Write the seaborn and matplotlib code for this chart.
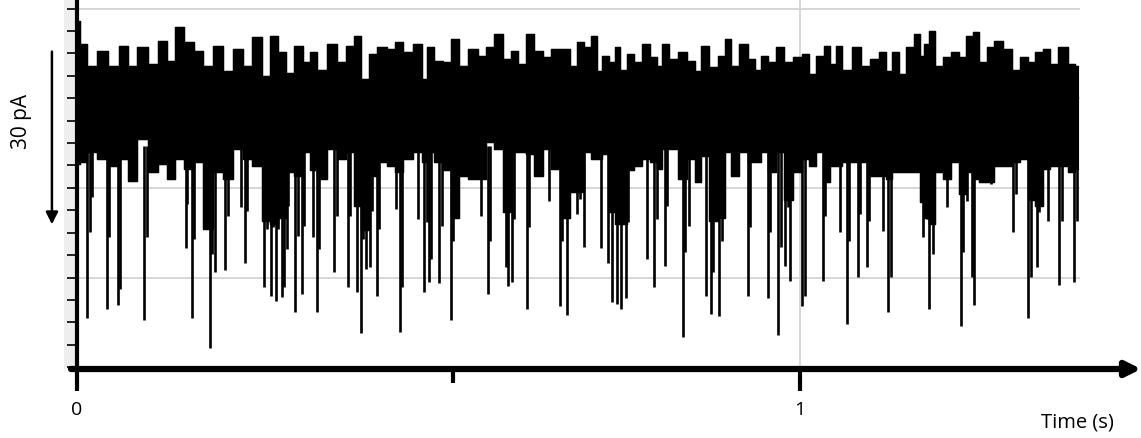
import numpy as np
import pandas as pd
import matplotlib
matplotlib.use("Agg")
import matplotlib.pyplot as plt
from matplotlib.patches import Rectangle
from matplotlib.ticker import MultipleLocator
import seaborn as sns

sns.set_style("white")
plt.rcParams['font.family'] = ['Open Sans', 'DejaVu Sans']
plt.rcParams['text.color'] = 'black'
plt.rcParams['xtick.color'] = 'black'
plt.rcParams['ytick.color'] = 'black'

# Огинаюча шуму (мін/макс струму), час у мс, струм у пА
t_ms = [0, 7, 21, 35, 50, 66, 76, 91, 104, 119, 131, 141, 156, 167, 181, 195, 209, 223,
        236, 249, 263, 271, 284, 295, 306, 318, 326, 339, 353, 366, 378, 387, 398, 409,
        422, 436, 444, 458, 472, 481, 488, 499, 512, 523, 534, 548, 560, 571, 582, 595,
        606, 615, 626, 638, 650, 661, 678, 686, 696, 707, 714, 723, 730, 740, 747, 755,
        765, 776, 788, 797, 806, 813, 824, 837, 851, 857, 869, 880, 892, 900, 910, 921,
        934, 942, 949, 961, 972, 983, 997, 1007, 1017, 1028, 1037, 1046, 1052, 1065,
        1079, 1090, 1104, 1115, 1122, 1131, 1142, 1152, 1162, 1169, 1173, 1182, 1191,
        1203, 1214, 1225, 1235, 1242, 1253, 1263, 1274, 1286, 1300, 1308, 1321, 1329,
        1342, 1350, 1364, 1376, 1384]
i_top = [13.0, 9.0, 5.4, 7.9, 5.4, 8.7, 5.4, 8.5, 5.7, 9.5, 6.2, 11.9, 9.4, 7.9, 5.4, 8.7,
         4.5, 8.2, 5.4, 10.2, 3.7, 10.4, 7.7, 4.3, 8.7, 6.0, 7.7, 4.8, 9.0, 6.0, 8.7, 10.4,
         3.2, 7.4, 8.5, 8.2, 9.4, 7.7, 9.0, 3.2, 8.5, 6.2, 6.0, 9.9, 5.4, 8.2, 7.0, 8.5,
         10.7, 6.5, 7.9, 5.7, 10.7, 7.9, 6.9, 8.2, 8.2, 5.4, 9.4, 8.5, 10.4, 4.5, 7.0, 6.0,
         8.5, 4.8, 7.4, 6.0, 9.0, 6.9, 5.4, 9.0, 6.5, 7.7, 6.2, 4.5, 8.7, 5.2, 7.0, 9.9,
         5.4, 9.0, 6.5, 4.8, 7.0, 6.0, 8.5, 6.0, 6.9, 7.4, 4.0, 7.0, 8.7, 5.7, 8.7, 4.8,
         8.5, 5.4, 6.5, 7.7, 4.5, 7.7, 4.0, 8.5, 10.7, 7.0, 9.0, 11.2, 5.4, 6.9, 7.7, 6.9,
         10.4, 11.0, 6.0, 8.5, 9.5, 8.2, 4.8, 6.9, 6.0, 7.7, 8.2, 5.7, 8.5, 5.7, 5.4]
i_bot = [-11.0, -10.7, -9.0, -10.2, -11.4, -10.2, -13.9, -6.9, -12.4, -11.0, -13.5, -10.2,
         -11.9, -10.7, -21.9, -12.4, -13.5, -8.5, -10.2, -11.4, -20.5, -21.0, -20.0, -12.4,
         -13.0, -9.0, -12.0, -13.5, -8.5, -10.2, -9.0, -18.0, -22.0, -13.0, -10.7, -11.4,
         -12.4, -10.2, -9.0, -10.7, -9.0, -10.7, -12.0, -20.0, -13.0, -13.5, -13.5, -7.4,
         -8.5, -19.0, -9.0, -9.0, -9.4, -13.0, -8.5, -11.9, -20.0, -15.7, -15.7, -9.0,
         -10.2, -10.2, -9.4, -19.0, -21.0, -21.0, -12.0, -11.4, -10.2, -10.7, -11.9, -8.5,
         -8.5, -13.5, -10.2, -14.0, -9.7, -20.5, -20.0, -9.0, -13.0, -9.0, -10.7, -10.7,
         -9.0, -12.4, -9.0, -17.0, -12.4, -10.2, -11.4, -9.0, -14.0, -11.4, -11.4, -10.7,
         -10.7, -10.7, -13.0, -13.0, -13.5, -12.4, -12.4, -12.4, -12.4, -17.4, -20.0, -21.0,
         -12.4, -13.5, -10.7, -16.0, -12.4, -13.5, -14.0, -14.0, -11.4, -11.4, -10.7, -10.2,
         -17.0, -18.0, -11.9, -11.4, -11.4, -12.4, -11.9]

# Окремі відкриття каналу (піки вниз): час, мс, та глибина, пА
spike_t_ms = [14, 18, 21, 41, 44, 57, 59, 93, 97, 151, 152, 159, 162, 184, 187, 191, 205,
              209, 227, 232, 235, 259, 263, 268, 271, 275, 278, 284, 286, 290, 292, 301,
              306, 311, 314, 326, 332, 335, 355, 360, 375, 378, 387, 393, 396, 400, 405,
              408, 415, 418, 441, 447, 449, 472, 480, 484, 487, 490, 501, 505, 517, 520,
              523, 559, 568, 571, 593, 596, 602, 604, 622, 625, 653, 668, 671, 678, 692,
              696, 701, 725, 734, 740, 747, 752, 759, 762, 788, 798, 802, 813, 816, 838,
              841, 846, 870, 877, 880, 888, 892, 928, 931, 956, 958, 969, 974, 979, 983,
              986, 1003, 1007, 1032, 1034, 1055, 1065, 1068, 1080, 1083, 1093, 1095, 1115,
              1122, 1126, 1170, 1176, 1178, 1184, 1203, 1223, 1225, 1231, 1238, 1241, 1264,
              1294, 1299, 1315, 1319, 1328, 1330, 1343, 1358, 1362, 1379, 1383]
spike_pA = [-36.8, -22.4, -16.6, -35.3, -23.2, -34.6, -31.9, -37.1, -23.2, -25.1, -17.7,
            -36.8, -23.6, -41.8, -26.1, -29.1, -28.8, -19.7, -18.2, -27.6, -18.9, -31.6,
            -21.9, -33.1, -21.6, -33.9, -21.9, -33.3, -31.6, -25.3, -18.1, -35.8, -23.1,
            -32.8, -21.4, -23.2, -35.8, -25.3, -29.1, -19.7, -31.6, -19.7, -32.4, -39.3,
            -23.6, -28.6, -28.3, -18.9, -33.1, -21.9, -18.6, -39.1, -31.6, -20.2, -32.4,
            -20.7, -30.8, -26.9, -30.9, -21.4, -37.1, -23.9, -17.4, -19.7, -32.8, -23.9,
            -28.3, -31.4, -30.8, -20.2, -35.3, -21.6, -17.2, -34.8, -23.9, -36.3, -19.4,
            -16.9, -24.9, -25.1, -27.6, -34.1, -34.4, -35.3, -33.4, -20.7, -26.9, -31.6,
            -20.2, -28.1, -18.1, -40.0, -25.8, -21.4, -33.1, -36.1, -29.1, -36.5, -23.9,
            -33.1, -21.6, -33.4, -22.4, -39.6, -24.9, -28.1, -18.2, -30.6, -34.8, -33.1,
            -30.6, -19.7, -22.4, -37.8, -23.9, -29.9, -19.4, -28.3, -20.6, -22.2, -35.8,
            -29.9, -23.2, -20.2, -35.3, -26.1, -18.2, -38.1, -25.8, -17.2, -29.9, -34.6,
            -14.4, -22.4, -16.1, -36.8, -29.9, -28.3, -19.1, -20.6, -31.3, -20.6, -30.8,
            -20.6]

env = pd.DataFrame({"t": np.asarray(t_ms) / 1000.0, "top": i_top, "bot": i_bot})
spikes = pd.DataFrame({"t": np.asarray(spike_t_ms) / 1000.0, "depth": spike_pA})

fig = plt.figure(figsize=(11.41, 4.39), dpi=100)
ax = fig.add_axes([77 / 1141, 69 / 439, 1003 / 1141, 370 / 439])

# Шумова смуга
ax.fill_between(env["t"], env["bot"], env["top"], step="mid", color="black", lw=0.8, zorder=3)
sns.lineplot(data=env, x="t", y="top", drawstyle="steps-mid", color="black", lw=1.0,
             estimator=None, ax=ax, zorder=3)
sns.lineplot(data=env, x="t", y="bot", drawstyle="steps-mid", color="black", lw=1.0,
             estimator=None, ax=ax, zorder=3)
# Піки
ax.vlines(spikes["t"], -8, spikes["depth"], color="black", lw=1.9, zorder=3)

ax.set_xlim(0, 1.387)
ax.set_ylim(-45.3, 16.6)
ax.set_xlabel("")
ax.set_ylabel("")

# Осі
for s in ["top", "right", "bottom"]:
    ax.spines[s].set_visible(False)
ax.spines["left"].set_linewidth(3)
ax.spines["left"].set_color("black")
ax.spines["left"].set_zorder(5)

ax.set_xticks([0, 1])
ax.set_xticklabels(["0", "1"])
ax.set_xticks([0.52], minor=True)
ax.tick_params(axis="x", which="major", bottom=True, direction="out", length=16, width=3,
               color="black", pad=6, labelsize=14, labelcolor="black")
ax.tick_params(axis="x", which="minor", bottom=True, direction="out", length=10, width=3,
               color="black")

ax.yaxis.set_major_locator(MultipleLocator(15))
ax.yaxis.set_minor_locator(MultipleLocator(3.75))
ax.tick_params(axis="y", which="both", left=True, direction="out", length=7.5, width=1.2,
               color="black", labelleft=False)

ax.grid(True, which="major", color="#d0d0d0", lw=1.2, zorder=0)
ax.set_axisbelow(True)

# Сіра смуга ліворуч від осі
ax.add_patch(Rectangle((-0.013, 0), 0.013, 1, transform=ax.transAxes,
                       facecolor="#eeeeee", edgecolor="none", clip_on=False, zorder=0))

# Стрілка осі часу
ax.annotate("", xy=(1.061, 0), xytext=(-0.006, 0), xycoords="axes fraction",
            arrowprops=dict(arrowstyle="-|>", lw=4.5, color="black",
                            mutation_scale=22, shrinkA=0, shrinkB=0),
            annotation_clip=False, zorder=6)
ax.annotate("Time (s)", xy=(0.997, 0), xycoords="axes fraction", xytext=(0, -37.5),
            textcoords="offset points", ha="center", va="center", fontsize=14.5,
            color="black", annotation_clip=False)

# Масштабна стрілка 30 пА
trans = ax.get_yaxis_transform()
ax.annotate("", xy=(-0.025, -21.1), xytext=(-0.025, 7.8), xycoords=trans,
            arrowprops=dict(arrowstyle="-|>", lw=1.8, color="black",
                            mutation_scale=18, shrinkA=0, shrinkB=0),
            annotation_clip=False)
ax.text(-0.055, -3.7, "30 pA", transform=trans, rotation=90, ha="center", va="center",
        fontsize=15, color="black")

fig.savefig("out.png", dpi=100)
